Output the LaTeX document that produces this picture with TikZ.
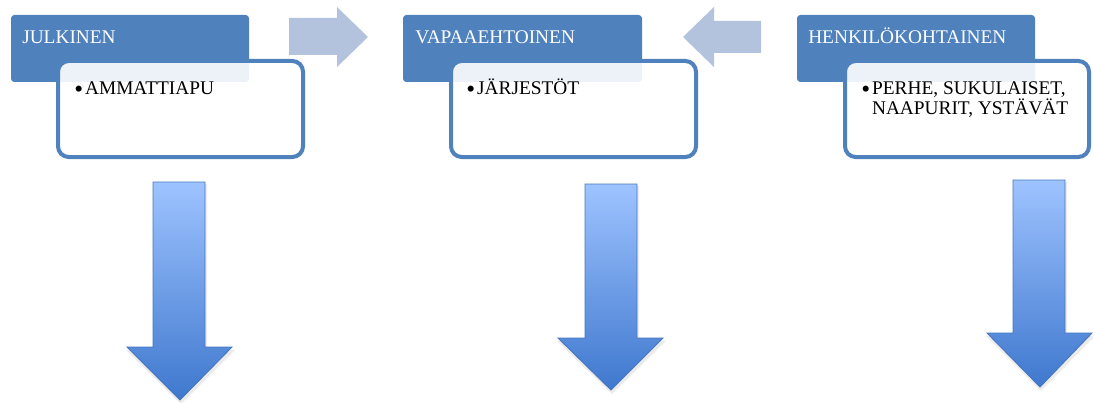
\documentclass[tikz,border=0pt]{standalone}
\usepackage{fontspec}
\setmainfont{Liberation Serif}
\usetikzlibrary{fit}
\definecolor{accent}{HTML}{4F81BD}
\definecolor{sidearrow}{HTML}{B3C3DE}
\definecolor{gradtop}{HTML}{9EC3FF}
\definecolor{gradbot}{HTML}{3F78CE}
\definecolor{arrowedge}{HTML}{4677BD}
\newcommand{\bigbul}{\raisebox{-2.3pt}{\fontsize{19}{17}\selectfont\textbullet}\hspace{1.5pt}}
\tikzset{
  headbox/.style={fill=accent, rounded corners=2.5pt, inner sep=0pt, draw=none},
  itembox/.style={draw=accent, line width=3pt, fill=white, fill opacity=0.9, draw opacity=1, rounded corners=8pt, inner sep=0pt},
  headtext/.style={anchor=base west, inner sep=0pt, text=white, font=\fontsize{14.5}{17}\selectfont},
  itemtext/.style={anchor=base west, inner sep=0pt, text=black, font=\fontsize{14.5}{15.75}\selectfont},
  sidearrowstyle/.style={fill=sidearrow, draw=none},
  downarrow/.style={top color=gradtop, bottom color=gradbot, draw=none},
  downedge/.style={draw=arrowedge, line width=0.7pt},
  shadowstyle/.style={fill=black, opacity=0.08, draw=none}
}
\begin{document}
\begin{tikzpicture}[x=0.75pt, y=-0.75pt]
\useasboundingbox (0,0) rectangle (1093,403);

% ---------- group 1 ----------
\node[headbox, fit={(11,15) (249,82)}] (h1) {};
\node[itembox, fit={(58,61) (303,157)}] (b1) {};
\node[headtext] (t1) at (22,44) {JULKINEN};
\node[itemtext] (i1) at (74,94) {\bigbul AMMATTIAPU};

% ---------- group 2 ----------
\node[headbox, fit={(403,15) (642,82)}] (h2) {};
\node[itembox, fit={(451,61) (696,157)}] (b2) {};
\node[headtext] (t2) at (415,44) {VAPAAEHTOINEN};
\node[itemtext] (i2) at (466,94) {\bigbul JÄRJESTÖT};

% ---------- group 3 ----------
\node[headbox, fit={(797,15) (1035,82)}] (h3) {};
\node[itembox, fit={(845,61) (1089,157)}] (b3) {};
\node[headtext] (t3) at (808,44) {HENKILÖKOHTAINEN};
\node[itemtext, align=left] (i3) at (861,115) {\bigbul PERHE, SUKULAISET,\\\hspace*{8.1pt}NAAPURIT, YSTÄVÄT};

% ---------- side arrows ----------
\fill[sidearrowstyle] (289,18) -- (337,18) -- (337,7) -- (368,37) -- (337,67) -- (337,55) -- (289,55) -- cycle;
\fill[sidearrowstyle] (761,21) -- (714,21) -- (714,7) -- (683,37) -- (714,67) -- (714,53) -- (761,53) -- cycle;

% ---------- down arrows ----------
\foreach \bl/\br/\tp/\hl/\hr/\hy/\tx/\ty/\nm in {
  153/205/182/127/232/347/180/400/d1,
  585/637/184/558/663/338/611/390/d2,
  1013/1065/180/987/1092/333/1040/387/d3}{
  \fill[shadowstyle] (\bl+2,\tp+2) -- (\br+2,\tp+2) -- (\br+2,\hy+2) -- (\hr+3,\hy+3) -- (\tx+1,\ty+4) -- (\hl-1,\hy+3) -- (\bl+2,\hy+2) -- cycle;
  \shade[downarrow] (\bl,\tp) -- (\br,\tp) -- (\br,\hy) -- (\hr,\hy) -- (\tx,\ty) -- (\hl,\hy) -- (\bl,\hy) -- cycle;
  \draw[downedge] (\bl,\tp) -- (\br,\tp) -- (\br,\hy) -- (\hr,\hy) -- (\tx,\ty) -- (\hl,\hy) -- (\bl,\hy) -- cycle;
}
\end{tikzpicture}
\end{document}
